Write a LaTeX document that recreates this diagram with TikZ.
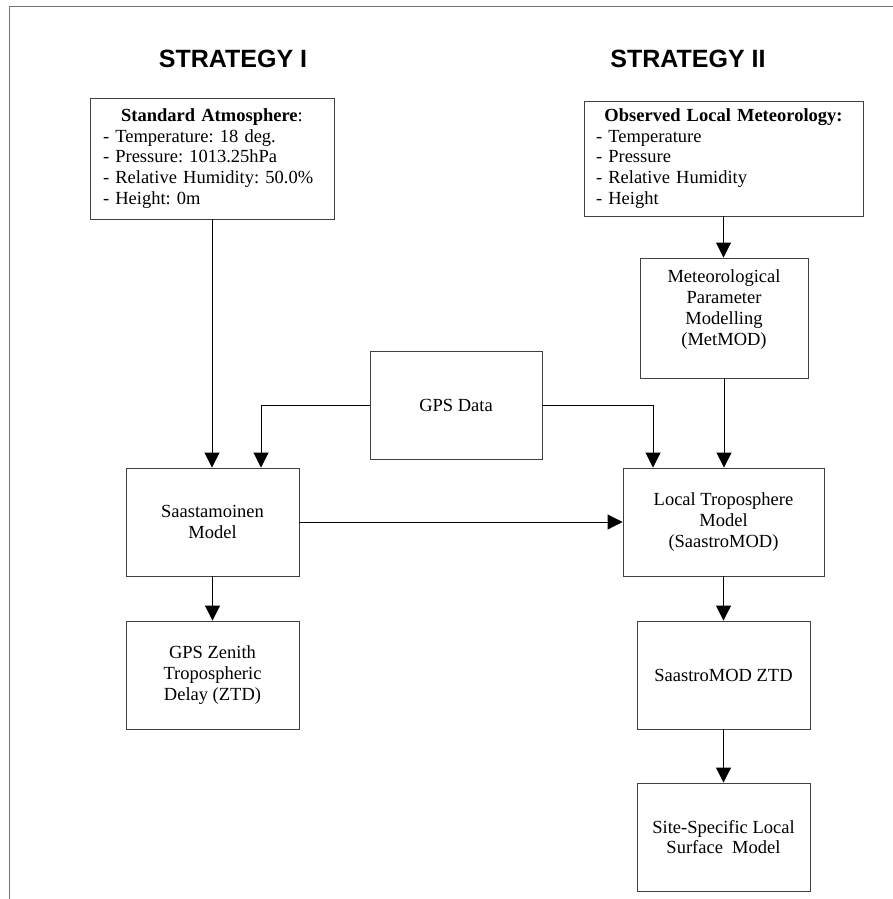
\documentclass[tikz,border=0pt]{standalone}
\usepackage{fontspec}
\setmainfont{Liberation Serif}
\newfontfamily\headfont{Liberation Sans}
\usetikzlibrary{arrows.meta}
\frenchspacing
\begin{document}
\begin{tikzpicture}[x=1pt,y=-1pt,
  box/.style={draw=black!75,line width=0.9pt,inner sep=0pt,align=center,
    font=\fontsize{18.5}{20.8}\selectfont\frenchspacing},
  arr/.style={draw=black,line width=0.9pt,-{Triangle[width=15pt,length=15pt]}},
  heading/.style={font=\headfont\bfseries\fontsize{25}{30}\selectfont},
  frameline/.style={draw=black!55,line width=1pt}]
\useasboundingbox (0,0) rectangle (893,899);
% frame
\coordinate (fbl) at (9,899);
\coordinate (ftl) at (9,7);
\coordinate (ftr) at (893,7);
\draw[frameline] (fbl) -- (ftl) -- (ftr);
% headings
\node[heading] (h1) at (233,59) {STRATEGY I};
\node[heading] (h2) at (688,59) {STRATEGY II};
% boxes
\node[box,minimum width=244pt,minimum height=121pt,text width=218pt,align=left] (std) at (212,158.5)
  {\makebox[\linewidth][c]{\textbf{Standard Atmosphere}:}\\
   - Temperature: 18 deg.\\
   - Pressure: 1013.25hPa\\
   - Relative Humidity: 50.0\%\\
   - Height: 0m};
\node[box,minimum width=279pt,minimum height=115pt,text width=255pt,align=left] (obs) at (723.5,158.5)
  {\makebox[\linewidth][c]{\textbf{Observed Local Meteorology:}}\\
   - Temperature\\
   - Pressure\\
   - Relative Humidity\\
   - Height};
\node[box,minimum width=168pt,minimum height=120pt] (met) at (724,318)
  {Meteorological\\Parameter\\Modelling\\(MetMOD)\\\mbox{}};
\node[box,minimum width=172pt,minimum height=108pt] (gps) at (456,405) {GPS Data};
\node[box,minimum width=173pt,minimum height=108pt] (saast) at (212.5,522) {Saastamoinen\\Model};
\node[box,minimum width=201pt,minimum height=108pt] (local) at (723.5,522)
  {Local Troposphere\\Model\\(SaastroMOD)};
\node[box,minimum width=173pt,minimum height=108pt] (ztd1) at (212.5,675)
  {GPS Zenith\\Tropospheric\\Delay (ZTD)};
\node[box,minimum width=173pt,minimum height=108pt] (ztd2) at (723.5,675) {SaastroMOD ZTD};
\node[box,minimum width=173pt,minimum height=108pt] (site) at (723.5,837)
  {Site-Specific Local\\Surface\ \ Model};
% connectors
\draw[arr] (std.south) -- (std.south |- saast.north);
\draw[arr] (gps.west) -| ([xshift=48.5pt]saast.north);
\draw[arr] (gps.east) -| ([xshift=-70.5pt]local.north);
\draw[arr] (obs.south) -- (obs.south |- met.north);
\draw[arr] (met.south) -- (met.south |- local.north);
\draw[arr] (saast.east) -- (local.west);
\draw[arr] (saast.south) -- (ztd1.north);
\draw[arr] (local.south) -- (ztd2.north);
\draw[arr] (ztd2.south) -- (site.north);
\end{tikzpicture}
\end{document}
